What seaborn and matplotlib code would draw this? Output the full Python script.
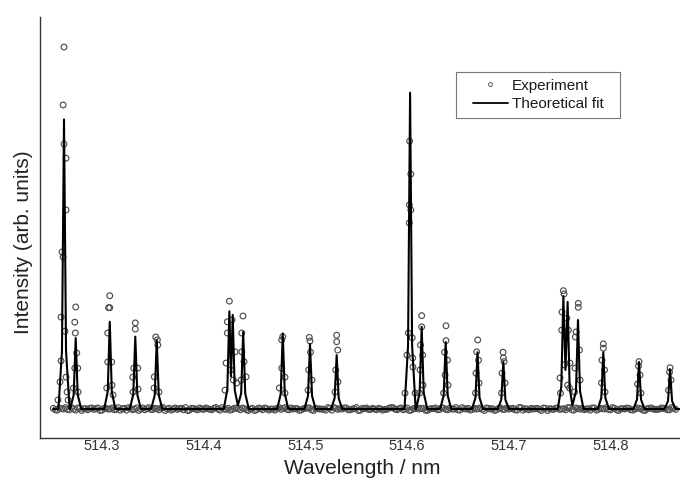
import numpy as np
import pandas as pd
import matplotlib
matplotlib.use("Agg")
import matplotlib.pyplot as plt
import seaborn as sns
from matplotlib.lines import Line2D
from matplotlib.patches import Rectangle

# ---------------- data ----------------
# Theoretical fit: vertices of the fitted line (wavelength nm, intensity a.u.)
fit_wl = [514.2520,
          514.2571, 514.2606, 514.2626, 514.2646, 514.2681,
          514.2686, 514.2721, 514.2741, 514.2761, 514.2796,
          514.3021, 514.3056, 514.3076, 514.3096, 514.3131,
          514.3272, 514.3307, 514.3327, 514.3347, 514.3382,
          514.3483, 514.3518, 514.3538, 514.3558, 514.3593,
          514.4197, 514.4232, 514.4252, 514.4268, 514.4285, 514.4305,
          514.4336, 514.4368, 514.4388, 514.4408, 514.4443,
          514.4722, 514.4757, 514.4777, 514.4797, 514.4832,
          514.4990, 514.5025, 514.5045, 514.5065, 514.5100,
          514.5252, 514.5287, 514.5307, 514.5327, 514.5362,
          514.5974, 514.6009, 514.6029, 514.6049, 514.6084,
          514.6088, 514.6123, 514.6143, 514.6163, 514.6198,
          514.6324, 514.6359, 514.6379, 514.6399, 514.6434,
          514.6637, 514.6672, 514.6692, 514.6712, 514.6747,
          514.6891, 514.6926, 514.6946, 514.6966, 514.7001,
          514.7481, 514.7516, 514.7536, 514.7557, 514.7578, 514.7598,
          514.7625, 514.7660, 514.7680, 514.7700, 514.7735,
          514.7874, 514.7909, 514.7929, 514.7949, 514.7984,
          514.8225, 514.8260, 514.8280, 514.8300, 514.8335,
          514.8530, 514.8565, 514.8585, 514.8605, 514.8640,
          514.8683]
fit_int = [0.0,
           0.0, 0.160, 0.800, 0.160, 0.0,
           0.0, 0.039, 0.196, 0.039, 0.0,
           0.0, 0.048, 0.241, 0.048, 0.0,
           0.0, 0.040, 0.200, 0.040, 0.0,
           0.0, 0.038, 0.190, 0.038, 0.0,
           0.0, 0.054, 0.270, 0.090, 0.260, 0.052,
           0.010, 0.043, 0.213, 0.043, 0.0,
           0.0, 0.042, 0.209, 0.042, 0.0,
           0.0, 0.036, 0.180, 0.036, 0.0,
           0.0, 0.030, 0.149, 0.030, 0.0,
           0.0, 0.175, 0.874, 0.175, 0.0,
           0.0, 0.045, 0.227, 0.045, 0.0,
           0.0, 0.037, 0.185, 0.037, 0.0,
           0.0, 0.031, 0.157, 0.031, 0.0,
           0.0, 0.026, 0.130, 0.026, 0.0,
           0.0, 0.062, 0.312, 0.108, 0.296, 0.059,
           0.010, 0.049, 0.246, 0.049, 0.0,
           0.0, 0.031, 0.157, 0.031, 0.0,
           0.0, 0.026, 0.130, 0.026, 0.0,
           0.0, 0.022, 0.110, 0.022, 0.0,
           0.0]

# Experiment: points on the line profiles
peak_exp_wl = [
    514.2626, 514.2617, 514.2626, 514.2646, 514.2646, 514.2607, 514.2617, 514.2597,
    514.2636, 514.2597, 514.2587, 514.2646, 514.2656, 514.2567, 514.2666,
    514.2741, 514.2732, 514.2737, 514.2751, 514.2732, 514.2761, 514.2718, 514.2764,
    514.3076, 514.3064, 514.3076, 514.3056, 514.3056, 514.3095, 514.3046, 514.3098, 514.3108,
    514.3327, 514.3327, 514.3312, 514.3351, 514.3302, 514.3305, 514.3354,
    514.3528, 514.3544, 514.3548, 514.3514, 514.3511, 514.3560,
    514.4252, 514.4232, 514.4278, 514.4265, 514.4308, 514.4291, 514.4232, 514.4219, 514.4209, 514.4324,
    514.4386, 514.4374, 514.4374, 514.4396, 514.4416, 514.4367,
    514.4777, 514.4767, 514.4767, 514.4799, 514.4743, 514.4799,
    514.5038, 514.5045, 514.5050, 514.5032, 514.5065, 514.5026,
    514.5307, 514.5307, 514.5317, 514.5298, 514.5320, 514.5291,
    514.6024, 514.6036, 514.6022, 514.6036, 514.6021, 514.6012, 514.6050, 514.5998,
    514.6055, 514.6057, 514.5979, 514.6078,
    514.6143, 514.6143, 514.6131, 514.6153, 514.6127, 514.6156, 514.6122,
    514.6382, 514.6382, 514.6368, 514.6397, 514.6373, 514.6402, 514.6358,
    514.6694, 514.6684, 514.6702, 514.6677, 514.6707, 514.6672,
    514.6943, 514.6946, 514.6953, 514.6933, 514.6963, 514.6928,
    514.7536, 514.7543, 514.7523, 514.7520, 514.7570, 514.7585, 514.7545, 514.7578,
    514.7503, 514.7508, 514.7601, 514.7596,
    514.7683, 514.7683, 514.7661, 514.7654, 514.7695, 514.7651, 514.7700, 514.7646,
    514.7929, 514.7929, 514.7916, 514.7941, 514.7911, 514.7946,
    514.8280, 514.8275, 514.8290, 514.8265, 514.8299,
    514.8585, 514.8580, 514.8595, 514.8570]
peak_exp_int = [
    1.000, 0.840, 0.732, 0.693, 0.550, 0.434, 0.420, 0.254,
    0.215, 0.133, 0.075, 0.088, 0.047, 0.025, 0.025,
    0.282, 0.240, 0.210, 0.155, 0.113, 0.113, 0.058, 0.047,
    0.313, 0.280, 0.280, 0.210, 0.130, 0.130, 0.058, 0.066, 0.039,
    0.238, 0.221, 0.113, 0.113, 0.088, 0.047, 0.055,
    0.199, 0.191, 0.177, 0.089, 0.058, 0.047,
    0.298, 0.241, 0.246, 0.108, 0.158, 0.080, 0.210, 0.127, 0.052, 0.072,
    0.257, 0.210, 0.158, 0.131, 0.089, 0.080,
    0.200, 0.191, 0.113, 0.088, 0.058, 0.044,
    0.198, 0.188, 0.157, 0.108, 0.080, 0.052,
    0.204, 0.186, 0.163, 0.108, 0.075, 0.047,
    0.740, 0.649, 0.564, 0.550, 0.514, 0.210, 0.197, 0.149,
    0.141, 0.116, 0.044, 0.044,
    0.258, 0.227, 0.177, 0.149, 0.108, 0.066, 0.044,
    0.230, 0.189, 0.157, 0.135, 0.094, 0.066, 0.044,
    0.191, 0.158, 0.135, 0.099, 0.072, 0.044,
    0.157, 0.141, 0.131, 0.099, 0.072, 0.044,
    0.327, 0.318, 0.268, 0.218, 0.251, 0.218, 0.122, 0.066,
    0.086, 0.044, 0.127, 0.058,
    0.292, 0.281, 0.213, 0.199, 0.163, 0.113, 0.080, 0.047,
    0.180, 0.168, 0.135, 0.108, 0.072, 0.047,
    0.131, 0.119, 0.094, 0.069, 0.044,
    0.114, 0.102, 0.080, 0.052]

# Experiment: baseline readings, first scan (evenly sampled 514.252 ... 514.864 nm)
base_int = [
    0.002, -0.003, 0.001, 0.004, -0.002, 0.000, 0.003, -0.004, 0.001, 0.002,
    -0.001, 0.003, -0.003, 0.002, 0.000, -0.002, 0.004, 0.001, -0.003, 0.002,
    0.000, -0.004, 0.003, 0.001, -0.001, 0.002, -0.002, 0.004, 0.000, -0.003,
    0.003, 0.001, -0.002, -0.004, 0.002, 0.000, 0.003, -0.001, 0.001, -0.002,
    0.004, -0.003, 0.000, 0.002, -0.001, 0.003, -0.002, 0.001, -0.004, 0.002,
    -0.002, 0.001, 0.003, -0.003, 0.000, 0.002, -0.001, 0.004, -0.002, 0.000,
    0.001, -0.002, 0.002, 0.003, -0.004, 0.001, 0.000, -0.003, 0.002, 0.004,
    -0.001, 0.000, 0.003, -0.002, 0.001, -0.004, 0.002, 0.003, -0.001, 0.000,
    0.002, -0.003, -0.001, 0.004, 0.000, 0.001, -0.002, 0.003, -0.003, 0.001,
    0.000, 0.002, -0.004, 0.001, 0.003, -0.001, 0.002, -0.002, 0.000, 0.004,
    -0.003, 0.001, 0.002, -0.001, 0.000, 0.003, -0.004, 0.002, 0.001, -0.002,
    0.003, -0.001, 0.000, 0.002, -0.003, 0.004, 0.001, -0.002, 0.000, 0.002,
    -0.004, 0.002, 0.001, -0.001, 0.003, 0.000, -0.002, 0.004, -0.003, 0.001,
    0.002, 0.000, -0.003, 0.003, -0.001, 0.001, 0.004, -0.002, 0.002, -0.004,
    0.001, 0.003, -0.002, 0.000, 0.002, -0.003, 0.001, 0.003, -0.001, 0.000,
    0.002, -0.002, 0.004, -0.001]
base_wl = np.linspace(514.252, 514.864, len(base_int))

# Experiment: baseline readings, interleaved samples (514.254 ... 514.862 nm)
base_int2 = [
    -0.002, 0.003, 0.000, -0.001, 0.004, -0.003, 0.002, 0.001, -0.002, 0.003,
    0.001, -0.004, 0.002, 0.000, 0.003, -0.001, -0.003, 0.002, 0.004, -0.002,
    0.003, 0.000, -0.002, 0.004, -0.001, 0.001, 0.003, -0.004, 0.002, 0.000,
    -0.001, 0.002, 0.004, -0.003, 0.001, -0.002, 0.000, 0.003, -0.001, 0.002,
    0.000, 0.004, -0.001, -0.003, 0.002, 0.001, 0.003, -0.002, 0.000, -0.004,
    0.003, -0.002, 0.001, 0.000, -0.003, 0.004, 0.002, -0.001, 0.003, 0.001,
    -0.004, 0.001, 0.003, -0.002, 0.002, 0.000, -0.001, 0.004, -0.003, 0.002,
    0.001, 0.003, -0.002, 0.000, 0.004, -0.003, 0.001, -0.001, 0.002, -0.002,
    0.000, -0.001, 0.002, 0.004, -0.002, 0.003, 0.000, -0.004, 0.001, 0.003,
    0.002, -0.003, 0.000, 0.001, -0.002, 0.004, -0.001, 0.003, 0.000, -0.002,
    0.004, 0.000, -0.003, 0.002, 0.001, -0.001, 0.003, 0.000, -0.004, 0.002,
    -0.001, 0.003, 0.001, -0.002, 0.004, -0.003, 0.000, 0.002, 0.001, -0.001,
    0.003, -0.004, 0.000, 0.002, -0.001, 0.001, 0.004, -0.002, 0.003, 0.000,
    -0.002, 0.001, 0.003, -0.003, 0.002, 0.000, -0.001, 0.004, -0.002, 0.001,
    0.000, 0.002, -0.003, 0.003, 0.001, -0.004, 0.002, 0.000, -0.001, 0.003,
    0.001, -0.002, 0.002]
base_wl2 = np.linspace(514.254, 514.862, len(base_int2))

tick_values = [514.3, 514.4, 514.5, 514.6, 514.7, 514.8]
tick_labels = ["514.3", "514.4", "514.5", "514.6", "514.7", "514.8"]
series_labels = ["Experiment", "Theoretical fit"]

# ---------------- plotting ----------------
sns.set_theme(style="white")
plt.rcParams["font.family"] = ["Liberation Sans", "DejaVu Sans"]

fig = plt.figure(figsize=(6.8, 4.82), dpi=100)
ax = fig.add_axes([40 / 680, 1 - 438 / 482, 640 / 680, 421 / 482])

exp_df = pd.DataFrame({"wl": np.concatenate([base_wl, base_wl2, peak_exp_wl]),
                       "I": np.concatenate([base_int, base_int2, peak_exp_int])})
fit_df = pd.DataFrame({"wl": fit_wl, "I": fit_int})

sns.scatterplot(data=exp_df, x="wl", y="I", ax=ax, marker="o", s=17,
                facecolors="none", edgecolor="#4e4e4e", linewidth=0.85,
                legend=False, zorder=2)
sns.lineplot(data=fit_df, x="wl", y="I", ax=ax, color="black", lw=1.5,
             estimator=None, sort=False, legend=False, zorder=3)

ax.set_xlim(514.2390, 514.8683)
ax.set_ylim(-0.080, 1.083)

for side in ["top", "right"]:
    ax.spines[side].set_visible(False)
for side in ["left", "bottom"]:
    ax.spines[side].set_color("#333333")
    ax.spines[side].set_linewidth(1.0)

ax.set_xticks(tick_values)
ax.set_xticklabels(tick_labels)
ax.set_yticks([])
ax.tick_params(axis="x", length=0, pad=0.5, labelsize=10.5, labelcolor="#333333")

ax.set_xlabel("Wavelength / nm", fontsize=15, color="#222222")
ax.xaxis.set_label_coords(0.503, -0.0506)
ax.set_ylabel("Intensity (arb. units)", fontsize=15, color="#222222")
ax.yaxis.set_label_coords(-0.011, 0.4656)

handles = [Line2D([], [], marker="o", linestyle="none", markersize=2.8,
                  markerfacecolor="none", markeredgecolor="#5c5c5c", markeredgewidth=0.7),
           Line2D([], [], color="black", lw=1.3)]
leg = ax.legend(handles, series_labels, frameon=False, loc="center",
                bbox_to_anchor=(0.778, 0.8147), handlelength=2.33, handletextpad=0.22,
                labelspacing=0.32, fontsize=11, borderpad=0)
for t in leg.get_texts():
    t.set_color("#1a1a1a")
ax.add_patch(Rectangle((0.650, 0.760), 0.256, 0.109, transform=ax.transAxes,
                       fill=False, edgecolor="#777777", lw=0.8))

fig.savefig("out.png", dpi=100)
